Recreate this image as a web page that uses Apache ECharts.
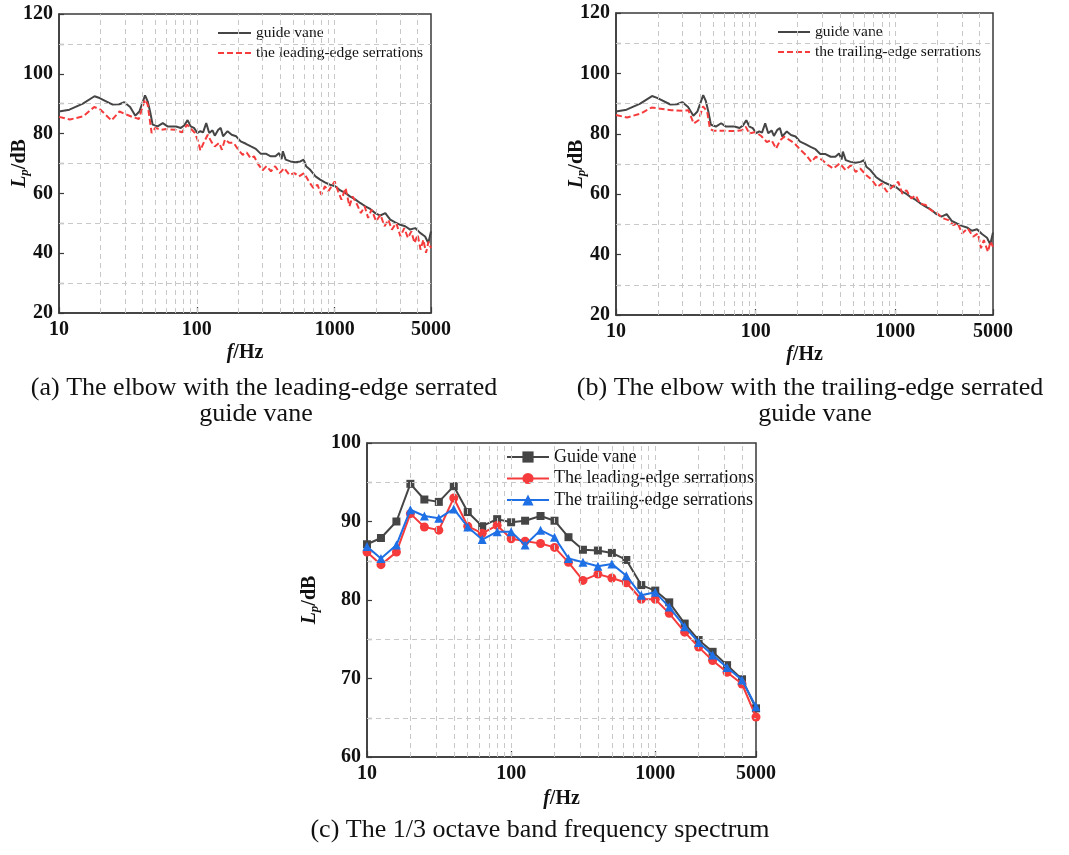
<!DOCTYPE html>
<html>
<head>
<meta charset="utf-8">
<script src="https://cdn.jsdelivr.net/npm/echarts@6.0.0/dist/echarts.min.js"></script>
<style>
html,body{margin:0;padding:0;background:#fff;}
#c{width:1069px;height:855px;}
</style>
</head>
<body>
<div id="c"></div>
<script>
// ---------- data ----------
// narrowband spectrum, elbow with plain guide vane [f (Hz), Lp (dB)]
var guideVane = [[10,87.4],[11.9,88.0],[14.9,90.0],[18.1,92.5],[19.7,91.9],[24.5,89.7],[27.4,89.8],[29.8,90.5],[32.8,88.9],[35.8,86.0],[38.3,87.4],[42.1,92.8],[44,90.8],[45.8,87.4],[47.8,83.0],[51.9,82.4],[56.6,83.5],[58,83.3],[61.3,82.4],[70.5,82.4],[76.6,81.9],[80.9,82.7],[85.7,84.5],[90.2,82.4],[95.3,81.9],[101,80.2],[106,80.8],[111,80.4],[117,83.5],[123,80.2],[130,81.1],[135,79.3],[143,81.3],[149,81.9],[155,79.1],[167,80.8],[179,79.6],[193,79.1],[208,77.4],[227,76.6],[247,75.7],[268,74.9],[290,73.3],[316,73.3],[344,72.4],[372,72.4],[395,73.5],[412,71.5],[421,74.1],[441,71.3],[478,70.7],[520,70.4],[564,70.7],[596,71.3],[620,69.1],[665,67.9],[726,65.7],[785,64.6],[850,63.7],[925,62.9],[1010,62.4],[1100,61.0],[1200,60.1],[1290,59.0],[1400,58.1],[1530,56.8],[1670,55.7],[1810,54.8],[1970,53.4],[2140,52.6],[2330,53.4],[2530,51.2],[2750,50.3],[2990,49.5],[3250,49.0],[3530,47.9],[3840,48.4],[4170,46.8],[4530,45.6],[4780,43.4],[5000,47.3]];
// narrowband spectrum, leading-edge serrations
var leadingEdge = [[10,85.6],[12,84.7],[15,85.8],[18,88.9],[20,88.0],[24,84.4],[27.5,87.4],[30,86.6],[34,85.6],[38,84.9],[42,91.4],[44,89.7],[47,80.2],[50,81.9],[55,81.3],[60,81.5],[70,81.3],[78,80.4],[85,83.0],[92,81.3],[97,80.2],[103,76.9],[106,74.4],[112,76.9],[120,79.6],[127,77.4],[135,75.7],[145,76.9],[152,74.6],[160,78.0],[172,76.9],[185,76.9],[200,74.6],[215,72.9],[230,73.7],[245,71.8],[260,72.4],[280,69.6],[300,67.7],[320,69.1],[345,67.4],[370,69.1],[400,66.8],[430,68.5],[470,66.2],[510,66.8],[550,65.7],[600,66.8],[650,64.0],[700,61.8],[750,62.9],[800,59.6],[850,62.4],[900,60.7],[1000,64.0],[1060,60.7],[1120,57.9],[1200,61.8],[1280,55.7],[1350,59.0],[1450,56.4],[1550,53.4],[1650,55.7],[1750,51.8],[1850,54.6],[2000,50.7],[2150,52.9],[2300,49.0],[2450,51.2],[2600,47.9],[2800,50.1],[3000,45.6],[3200,48.4],[3400,45.1],[3600,47.3],[3800,43.4],[4000,46.2],[4200,41.2],[4400,44.5],[4600,40.1],[4800,43.9],[5000,41.7]];
// narrowband spectrum, trailing-edge serrations
var trailingEdge = [[10,86.2],[12,85.4],[15,86.7],[18,88.7],[20,88.4],[25,87.8],[30,87.6],[33,87.8],[36,83.4],[39,84.5],[42,89.1],[45,87.3],[47,81.7],[50,81.0],[60,81.0],[70,80.9],[80,81.2],[85,82.3],[90,80.1],[100,80.6],[110,79.2],[120,77.3],[130,77.9],[140,75.1],[150,77.9],[160,79.0],[175,77.9],[190,76.8],[210,74.6],[230,72.9],[250,70.7],[270,72.4],[300,71.3],[330,69.6],[360,68.5],[400,70.2],[440,68.0],[480,69.6],[520,67.4],[560,68.5],[620,66.3],[680,64.7],[740,62.4],[800,63.5],[870,60.8],[950,62.4],[1050,64.1],[1120,60.2],[1200,61.3],[1300,58.6],[1400,59.6],[1500,56.9],[1650,56.4],[1800,54.7],[2000,53.6],[2200,52.0],[2400,51.4],[2600,49.8],[2800,50.3],[3000,47.0],[3300,48.7],[3600,45.9],[3900,47.0],[4100,42.1],[4300,44.8],[4600,40.9],[4800,44.3],[5000,42.6]];

// 1/3 octave band spectrum
var octaveBands = [10,12.5,16,20,25,31.5,40,50,63,80,100,125,160,200,250,315,400,500,630,800,1000,1250,1600,2000,2500,3150,4000,5000];
var octGuide    = [87.1,87.9,90.0,94.8,92.8,92.5,94.5,91.2,89.4,90.3,89.9,90.1,90.7,90.1,88.0,86.4,86.3,86.0,85.1,81.9,81.2,79.7,77.0,74.9,73.4,71.7,69.9,66.2];
var octLeading  = [86.1,84.5,86.1,91.0,89.3,88.9,93.0,89.4,88.5,89.5,87.8,87.5,87.2,86.7,84.8,82.5,83.3,82.8,82.2,80.1,80.1,78.3,75.9,74.0,72.3,70.8,69.3,65.1];
var octTrailing = [86.8,85.3,87.0,91.5,90.7,90.4,91.6,89.3,87.7,88.7,88.7,87.0,88.9,88.0,85.3,84.8,84.3,84.6,83.1,80.6,81.0,79.1,76.6,74.6,73.0,71.4,69.8,66.4];

// tick / grid positions
var freqGrid = [20,30,40,50,60,70,80,90,100,200,300,400,500,600,700,800,900,1000,2000,3000,4000];
var yGridAB = [30,50,70,90,110];
var yGridC = [65,75,85,95];

var names = {
  gv: 'guide vane', le: 'the leading-edge serrations', te: 'the trailing-edge serrations',
  GV: 'Guide vane', LE: 'The leading-edge serrations', TE: 'The trailing-edge serrations'
};
var captions = [
  '(a) The elbow with the leading-edge serrated', 'guide vane',
  '(b) The elbow with the trailing-edge serrated', 'guide vane',
  '(c) The 1/3 octave band frequency spectrum'
];

// ---------- chart ----------
var SERIF = '"Liberation Serif", "Times New Roman", serif';
var AX = '#3a3a3a';
var BLACK = '#454545', RED = '#f53b3b', BLUE = '#1f6fe5';

function octPairs(vals){ return octaveBands.map(function(f,i){ return [f, vals[i]]; }); }

function xAxis(gi, gap){
  return {
    type: 'log', logBase: 10, min: 10, max: 5000, gridIndex: gi,
    name: '{i|f}/Hz', nameLocation: 'middle', nameGap: gap, nameMoveOverlap: false,
    nameTextStyle: {fontFamily: SERIF, fontWeight: 'bold', fontSize: 20, color: '#111',
      rich: {i: {fontFamily: SERIF, fontWeight: 'bold', fontStyle: 'italic', fontSize: 20, color: '#111'}}},
    axisLine: {show: true, lineStyle: {color: AX, width: 1.5}},
    axisTick: {show: true, inside: true, length: 6, lineStyle: {color: AX, width: 1.2}},
    axisLabel: {fontFamily: SERIF, fontWeight: 'bold', fontSize: 20, color: '#111', margin: 7, hideOverlap: false,
      formatter: function(v){ return String(Math.round(v)); }},
    splitLine: {show: false}
  };
}
function yAxis(gi, mn, mx, labelStep, gap){
  return {
    type: 'value', min: mn, max: mx, interval: labelStep / 2, gridIndex: gi,
    name: '{i|L}{sub|p}/dB', nameLocation: 'middle', nameGap: gap, nameRotate: 90, nameMoveOverlap: false,
    nameTextStyle: {fontFamily: SERIF, fontWeight: 'bold', fontSize: 20, color: '#111',
      rich: {
        i: {fontFamily: SERIF, fontWeight: 'bold', fontStyle: 'italic', fontSize: 20, color: '#111'},
        sub: {fontFamily: SERIF, fontWeight: 'bold', fontStyle: 'italic', fontSize: 13, color: '#111', padding: [9,0,0,0]}
      }},
    axisLine: {show: true, lineStyle: {color: AX, width: 1.5}},
    axisTick: {show: true, inside: true, length: 5, lineStyle: {color: AX, width: 1.2}},
    axisLabel: {fontFamily: SERIF, fontWeight: 'bold', fontSize: 20, color: '#111', margin: 6,
      formatter: function(v){ return (Math.abs((v - mn) % labelStep) < 1e-6) ? String(v) : ''; }},
    splitLine: {show: false}
  };
}
function gridMarks(yg){
  var d = freqGrid.map(function(f){ return {xAxis: f}; })
          .concat(yg.map(function(v){ return {yAxis: v}; }));
  return {silent: true, symbol: 'none', animation: false, label: {show: false},
          lineStyle: {color: '#c8c8c8', type: [5, 4], width: 1}, data: d};
}
function legend(left, top, data, fs, iw, gap, hideSymbol, bg){
  var l = {orient: 'vertical', left: left, top: top, data: data, itemWidth: iw, itemHeight: 14, itemGap: gap,
    padding: [2, 0, 2, 2], textStyle: {fontFamily: SERIF, fontSize: fs, color: '#111'}, selectedMode: false};
  if (hideSymbol) l.itemStyle = {opacity: 0};
  if (bg) l.backgroundColor = '#ffffff';
  return l;
}
function caption(x, y, t){
  return {type: 'text', x: x, y: y, z: 10,
    style: {text: t, fontSize: 26, fontFamily: SERIF, fill: '#111', align: 'center', verticalAlign: 'middle'}};
}

var chart = echarts.init(document.getElementById('c'), null, {renderer: 'canvas'});
chart.setOption({
  animation: false,
  backgroundColor: '#ffffff',
  grid: [
    {left: 59, top: 14, width: 372, height: 299, show: true, borderColor: AX, borderWidth: 1.5, backgroundColor: 'transparent'},
    {left: 616, top: 13, width: 377, height: 302, show: true, borderColor: AX, borderWidth: 1.5, backgroundColor: 'transparent'},
    {left: 367, top: 443, width: 389, height: 314, show: true, borderColor: AX, borderWidth: 1.5, backgroundColor: 'transparent'}
  ],
  xAxis: [xAxis(0, 30), xAxis(1, 30), xAxis(2, 32)],
  yAxis: [yAxis(0, 20, 120, 20, 28), yAxis(1, 20, 120, 20, 28), yAxis(2, 60, 100, 10, 46)],
  legend: [
    legend(215, 23, [names.gv, names.le], 15.5, 33, 4, true, false),
    legend(775, 22, [names.gv, names.te], 15.5, 32, 4, true, false),
    legend(504, 446, [names.GV, names.LE, names.TE], 18, 42, 3.5, false, true)
  ],
  series: [
    {name: names.gv, type: 'line', xAxisIndex: 0, yAxisIndex: 0, data: guideVane, showSymbol: false, symbol: 'none',
     lineStyle: {color: BLACK, width: 2}, itemStyle: {color: BLACK}, markLine: gridMarks(yGridAB), z: 3},
    {name: names.le, type: 'line', xAxisIndex: 0, yAxisIndex: 0, data: leadingEdge, showSymbol: false, symbol: 'none',
     lineStyle: {color: RED, width: 2, type: [6, 3]}, itemStyle: {color: RED}, z: 4},
    {name: names.gv, type: 'line', xAxisIndex: 1, yAxisIndex: 1, data: guideVane, showSymbol: false, symbol: 'none',
     lineStyle: {color: BLACK, width: 2}, itemStyle: {color: BLACK}, markLine: gridMarks(yGridAB), z: 3},
    {name: names.te, type: 'line', xAxisIndex: 1, yAxisIndex: 1, data: trailingEdge, showSymbol: false, symbol: 'none',
     lineStyle: {color: RED, width: 2, type: [6, 3]}, itemStyle: {color: RED}, z: 4},
    {name: names.GV, type: 'line', xAxisIndex: 2, yAxisIndex: 2, data: octPairs(octGuide), symbol: 'rect', symbolSize: 8,
     lineStyle: {color: BLACK, width: 2}, itemStyle: {color: BLACK}, markLine: gridMarks(yGridC), z: 3},
    {name: names.LE, type: 'line', xAxisIndex: 2, yAxisIndex: 2, data: octPairs(octLeading), symbol: 'circle', symbolSize: 9,
     lineStyle: {color: RED, width: 2}, itemStyle: {color: RED}, z: 4},
    {name: names.TE, type: 'line', xAxisIndex: 2, yAxisIndex: 2, data: octPairs(octTrailing), symbol: 'triangle', symbolSize: 9,
     lineStyle: {color: BLUE, width: 2}, itemStyle: {color: BLUE}, z: 5}
  ],
  graphic: [
    caption(264, 388, captions[0]),
    caption(256, 414, captions[1]),
    caption(810, 388, captions[2]),
    caption(815, 414, captions[3]),
    caption(540, 830, captions[4])
  ]
});
</script>
</body>
</html>
